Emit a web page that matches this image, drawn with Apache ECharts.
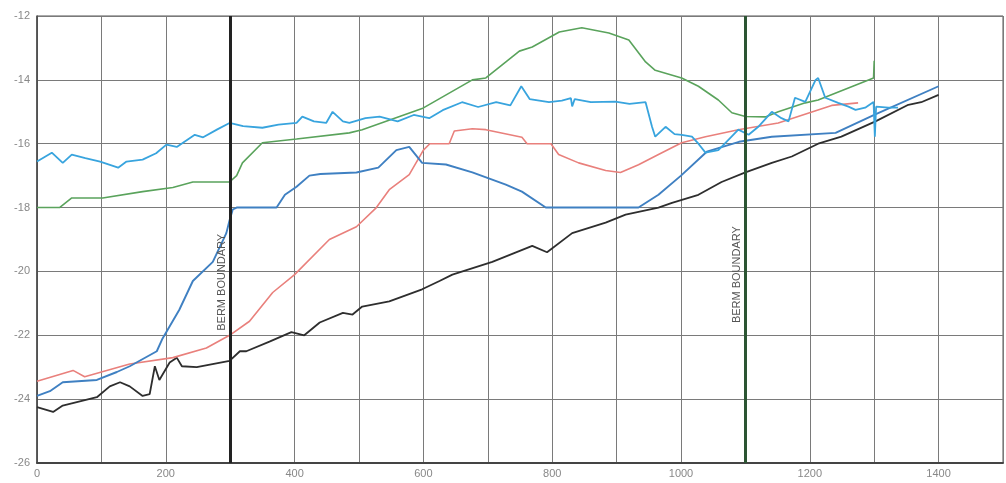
<!DOCTYPE html>
<html>
<head>
<meta charset="utf-8">
<script src="https://cdn.jsdelivr.net/npm/echarts@6/dist/echarts.min.js"></script>
<style>
  html, body { margin: 0; padding: 0; background: #fff; }
  #chart { width: 1006px; height: 483px; }
</style>
</head>
<body>
<div id="chart"></div>
<script>
// x = distance, y = elevation
const cyanLine = [
  [0,-16.56],[23,-16.28],[40,-16.6],[54,-16.34],[75,-16.45],[98,-16.56],[126,-16.75],[139,-16.56],
  [164,-16.5],[185,-16.3],[201,-16.03],[217,-16.1],[245,-15.72],[258,-15.8],[280,-15.55],[299,-15.35],
  [320,-15.45],[350,-15.5],[375,-15.4],[403,-15.35],[412,-15.15],[430,-15.3],[449,-15.35],[459,-15.0],
  [475,-15.3],[485,-15.35],[510,-15.2],[532,-15.15],[560,-15.3],[585,-15.1],[609,-15.2],[630,-14.95],
  [660,-14.7],[685,-14.85],[713,-14.7],[735,-14.8],[752,-14.2],[765,-14.6],[795,-14.7],[815,-14.65],
  [829,-14.57],[831,-14.83],[835,-14.6],[860,-14.7],[898,-14.68],[920,-14.75],[945,-14.7],[955,-15.47],
  [960,-15.78],[976,-15.47],[990,-15.7],[1001,-15.72],[1017,-15.78],[1027,-16.0],[1038,-16.28],[1058,-16.2],
  [1074,-15.87],[1089,-15.56],[1105,-15.72],[1120,-15.47],[1141,-15.0],[1156,-15.2],[1167,-15.3],[1177,-14.56],
  [1193,-14.69],[1209,-14.0],[1213,-13.94],[1224,-14.56],[1244,-14.72],[1260,-14.84],[1271,-14.94],[1286,-14.87],
  [1299,-14.69],[1301,-15.78],[1303,-14.84],[1322,-14.87],[1337,-14.87]
];
const greenLine = [
  [0,-18.0],[35,-18.0],[54,-17.7],[102,-17.7],[164,-17.5],[211,-17.37],[242,-17.2],[299,-17.2],
  [310,-17.0],[319,-16.6],[350,-15.97],[403,-15.85],[485,-15.66],[505,-15.56],[598,-14.9],[676,-14.0],
  [697,-13.94],[749,-13.1],[769,-12.97],[811,-12.5],[846,-12.37],[888,-12.53],[919,-12.75],[945,-13.44],
  [960,-13.7],[1001,-13.94],[1027,-14.2],[1058,-14.63],[1079,-15.03],[1100,-15.15],[1131,-15.16],[1151,-15.0],
  [1193,-14.72],[1213,-14.63],[1299,-13.94],[1300,-13.4]
];
const redLine = [
  [0,-23.44],[56,-23.1],[74,-23.3],[144,-22.9],[211,-22.7],[263,-22.4],[299,-22.0],[330,-21.56],
  [366,-20.66],[400,-20.1],[454,-19.0],[496,-18.6],[527,-18.0],[547,-17.44],[578,-16.97],[600,-16.2],
  [610,-16.0],[640,-16.0],[648,-15.6],[676,-15.53],[697,-15.56],[753,-15.8],[761,-16.0],[798,-16.0],
  [810,-16.34],[841,-16.6],[883,-16.84],[906,-16.9],[934,-16.66],[965,-16.34],[1001,-15.97],[1038,-15.78],
  [1089,-15.56],[1151,-15.35],[1234,-14.8],[1275,-14.72]
];
const blueLine = [
  [0,-23.9],[20,-23.75],[40,-23.47],[93,-23.4],[124,-23.15],[144,-22.97],[186,-22.5],[195,-22.1],
  [221,-21.2],[242,-20.3],[273,-19.7],[294,-18.8],[299,-18.4],[304,-18.06],[310,-18.0],[372,-18.0],
  [385,-17.6],[403,-17.35],[423,-17.0],[440,-16.95],[496,-16.9],[530,-16.75],[558,-16.2],[578,-16.1],
  [598,-16.6],[635,-16.65],[676,-16.9],[728,-17.28],[753,-17.5],[790,-18.0],[934,-18.0],[965,-17.6],
  [1000,-17.0],[1040,-16.25],[1090,-15.94],[1141,-15.78],[1240,-15.66],[1300,-15.1],[1400,-14.2]
];
const blackLine = [
  [0,-24.25],[25,-24.4],[40,-24.2],[93,-23.94],[113,-23.6],[129,-23.47],[144,-23.6],[164,-23.9],
  [175,-23.84],[183,-22.97],[190,-23.4],[206,-22.85],[217,-22.7],[225,-22.97],[248,-23.0],[299,-22.8],
  [315,-22.5],[325,-22.5],[361,-22.2],[395,-21.9],[415,-22.0],[439,-21.6],[475,-21.3],[490,-21.35],
  [505,-21.1],[547,-20.94],[598,-20.56],[625,-20.3],[645,-20.1],[707,-19.7],[769,-19.2],[792,-19.4],
  [831,-18.8],[883,-18.47],[914,-18.22],[965,-18.0],[986,-17.85],[1027,-17.6],[1063,-17.2],[1100,-16.9],
  [1141,-16.6],[1172,-16.4],[1213,-16.0],[1249,-15.78],[1302,-15.3],[1353,-14.78],[1373,-14.7],[1400,-14.47]
];
const bermX = [300, 1100];
const bermLabel = 'BERM BOUNDARY';

const chart = echarts.init(document.getElementById('chart'));

function lineSeries(name, data, color, width) {
  return {
    name: name,
    type: 'line',
    data: data,
    showSymbol: false,
    symbol: 'none',
    animation: false,
    lineStyle: { color: color, width: width },
    z: 3
  };
}

const series = [
  lineSeries('black', blackLine, '#2e2e2e', 1.8),
  lineSeries('red', redLine, '#e9807c', 1.6),
  lineSeries('green', greenLine, '#5aa35c', 1.6),
  lineSeries('blue', blueLine, '#3f80c2', 1.9),
  lineSeries('cyan', cyanLine, '#38a4de', 1.8)
];

// berm boundaries as vertical marker lines
series[0].markLine = {
  silent: true,
  symbol: 'none',
  animation: false,
  label: { show: false },
  data: [
    { xAxis: bermX[0], lineStyle: { color: '#222', width: 3, type: 'solid' } },
    { xAxis: bermX[1], lineStyle: { color: '#2c5533', width: 3, type: 'solid' } }
  ]
};

chart.setOption({
  backgroundColor: '#fff',
  animation: false,
  grid: {
    left: 37, right: 1, top: 16, bottom: 20,
    show: true, borderColor: '#555', borderWidth: 1
  },
  xAxis: {
    type: 'value',
    min: 0, max: 1500, interval: 100,
    axisLine: { show: true, lineStyle: { color: '#444', width: 2 } },
    axisTick: { show: false },
    splitLine: { show: true, lineStyle: { color: '#7a7a7a', width: 1 } },
    axisLabel: {
      color: '#888', fontSize: 11, margin: 5, fontFamily: 'Liberation Sans',
      formatter: v => (v % 200 === 0 && v <= 1400) ? String(v) : ''
    }
  },
  yAxis: {
    type: 'value',
    min: -26, max: -12, interval: 2,
    axisLine: { show: true, lineStyle: { color: '#444', width: 1.5 } },
    axisTick: { show: false },
    splitLine: { show: true, lineStyle: { color: '#7a7a7a', width: 1 } },
    axisLabel: {
      color: '#888', fontSize: 11, margin: 7, fontFamily: 'Liberation Sans',
      padding: [0, 0, 6, 0]
    }
  },
  series: series
});

// rotated "BERM BOUNDARY" captions, placed via the axis scales
const labelY = [-20.34, -20.1];
const graphics = bermX.map((bx, i) => {
  const p = chart.convertToPixel({ gridIndex: 0 }, [bx, labelY[i]]);
  return {
    type: 'text',
    x: p[0] - 8,
    y: p[1],
    rotation: Math.PI / 2,
    style: {
      text: bermLabel,
      fill: '#555',
      font: '11px "Liberation Sans"',
      align: 'center',
      verticalAlign: 'middle'
    },
    z: 10
  };
});
chart.setOption({ graphic: graphics });
</script>
</body>
</html>
